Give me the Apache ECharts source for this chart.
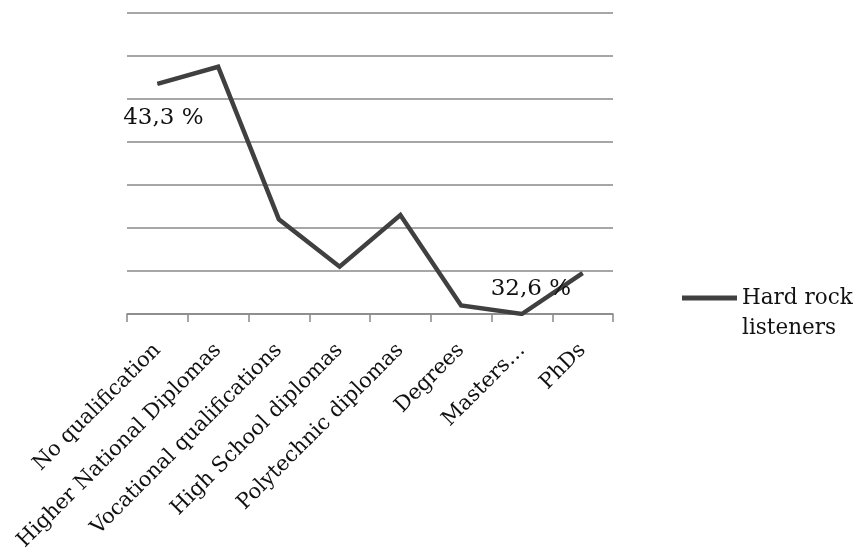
<!DOCTYPE html>
<html>
<head>
<meta charset="utf-8">
<style>
  html, body { margin: 0; padding: 0; background: #fff; }
  #chart { width: 858px; height: 555px; }
</style>
<script src="https://cdn.jsdelivr.net/npm/echarts@6/dist/echarts.min.js"></script>
</head>
<body>
<div id="chart"></div>
<script>
// Share of hard rock listeners by highest qualification (%)
const categories = [
  'No qualification',
  'Higher National Diplomas',
  'Vocational qualifications',
  'High School diplomas',
  'Polytechnic diplomas',
  'Degrees',
  'Masters\u2026',
  'PhDs'
];
const hardRock = [43.3, 44.1, 37.0, 34.8, 37.2, 33.0, 32.6, 34.5];
// Only these categories carry a value label
const labelledCategories = ['No qualification', 'Masters\u2026'];

const seriesName = 'Hard rock listeners';
const FONT = '"DejaVu Serif", serif';

const fmt = v => v.toFixed(1).replace('.', ',') + ' %';

const labelPlacement = {
  'No qualification': { position: 'bottom', offset: [6, 17] },
  'Masters\u2026': { position: 'top', offset: [9, -8] }
};

const seriesData = hardRock.map((v, i) => {
  const cat = categories[i];
  if (labelledCategories.indexOf(cat) < 0) return v;
  const o = labelPlacement[cat];
  return {
    value: v,
    label: {
      show: true,
      position: o.position,
      offset: o.offset,
      formatter: p => fmt(p.value),
      fontFamily: FONT,
      fontSize: 23,
      color: '#111'
    }
  };
});

const yMin = 32.6, yMax = 46.6;

const chart = echarts.init(document.getElementById('chart'), null, { renderer: 'canvas' });
chart.setOption({
  animation: false,
  backgroundColor: '#fff',
  grid: { left: 127, right: 245, top: 13, bottom: 241 },
  legend: {
    data: [seriesName],
    left: 677,
    top: 248,
    orient: 'vertical',
    itemWidth: 55,
    itemHeight: 20,
    icon: 'path://M0,0 L55,0 L55,5 L0,5 Z',
    // leading blank line keeps the first text line level with the line sample
    formatter: () => '\nHard rock\nlisteners',
    textStyle: {
      fontFamily: FONT,
      fontSize: 21.5,
      color: '#111',
      lineHeight: 30
    }
  },
  xAxis: {
    type: 'category',
    data: categories,
    boundaryGap: true,
    axisLine: { lineStyle: { color: '#888', width: 1.5 } },
    axisTick: { show: true, length: 8, lineStyle: { color: '#888', width: 1.5 } },
    axisLabel: {
      interval: 0,
      rotate: 45,
      margin: 33,
      fontFamily: FONT,
      fontSize: 21,
      color: '#111'
    }
  },
  yAxis: [
    {
      // gridline frame: seven equal bands above the axis
      type: 'value',
      min: 0,
      max: 14,
      interval: 2,
      axisLine: { show: false },
      axisTick: { show: false },
      axisLabel: { show: false },
      splitLine: { lineStyle: { color: '#888', width: 1.5 } }
    },
    {
      type: 'value',
      min: yMin,
      max: yMax,
      axisLine: { show: false },
      axisTick: { show: false },
      axisLabel: { show: false },
      splitLine: { show: false }
    }
  ],
  series: [{
    name: seriesName,
    type: 'line',
    yAxisIndex: 1,
    data: seriesData,
    symbol: 'circle',
    symbolSize: 1,
    showSymbol: true,
    lineStyle: { color: '#404040', width: 4.5, join: 'miter' },
    itemStyle: { color: '#404040' }
  }]
});
</script>
</body>
</html>
